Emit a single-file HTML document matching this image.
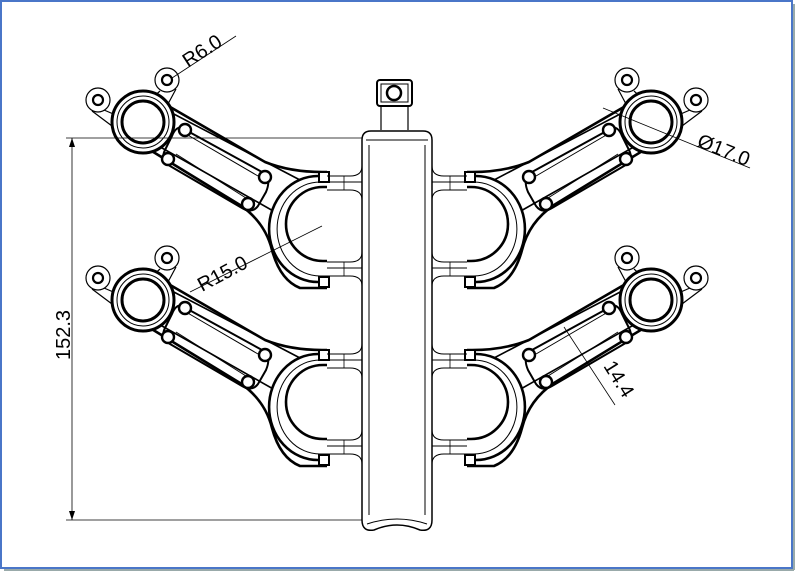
<!DOCTYPE html>
<html><head><style>
html,body{margin:0;padding:0;background:#fff;}
svg{display:block;}
text{font-family:"Liberation Sans",sans-serif;fill:#000;}
</style></head><body>
<svg width="796" height="572" viewBox="0 0 796 572" xmlns="http://www.w3.org/2000/svg">
<rect x="1" y="1" width="791" height="567" fill="#fff" stroke="#4a76c8" stroke-width="2"/>
<line x1="794" y1="4" x2="794" y2="570" stroke="#9aa" stroke-width="2"/>
<line x1="4" y1="570" x2="794" y2="570" stroke="#9aa" stroke-width="2"/>
<defs>
<g id="arm" fill="none" stroke="#000">
  <!-- lugs with necks -->
  <path d="M104,110 L118,116 M92,111 L112,126" stroke-width="1.2"/>
  <path d="M160,91 L150,100 M176,89 L168,104" stroke-width="1.2"/>
  <circle cx="98" cy="100" r="12" stroke-width="1.2" fill="#fff"/>
  <circle cx="98" cy="100" r="5" stroke-width="2.2"/>
  <circle cx="167" cy="80" r="12" stroke-width="1.2" fill="#fff"/>
  <circle cx="167" cy="80" r="5" stroke-width="2.2"/>
  <!-- arm body -->
  <path d="M165,104 L265,162 Q290,172 322,172 L327,172 M150,150 L240,205 Q265,222 272,250 Q280,280 300,288 L327,288" stroke-width="2.6" fill="none"/>
  <path d="M170,112 L300,180 M155,144 L275,212" stroke-width="1.6"/>
  <!-- inner slot -->
  <path d="M182,128 L262,172 Q272,178 266,192 L258,206 Q252,214 242,208 L170,166 Q160,160 165,150 L172,136 Q176,126 182,128 Z" stroke-width="2"/>
  <path d="M186,134 L258,176 M176,154 L246,198" stroke-width="1"/>
  <circle cx="185" cy="130" r="6" stroke-width="2.4" fill="#fff"/>
  <circle cx="168" cy="159" r="6" stroke-width="2.4" fill="#fff"/>
  <circle cx="265" cy="177" r="6" stroke-width="2.4" fill="#fff"/>
  <circle cx="248" cy="204" r="6" stroke-width="2.4" fill="#fff"/>
  <!-- big ring -->
  <circle cx="143" cy="122" r="31" stroke-width="3" fill="#fff"/>
  <circle cx="143" cy="122" r="26" stroke-width="1"/>
  <circle cx="143" cy="122" r="21" stroke-width="3"/>
  <!-- clamp -->
  <path d="M327,176 L318,176 A48,52 0 0,0 318,282 L327,282" stroke-width="2.6" fill="#fff"/>
  <path d="M327,182 L320,182 A42,46 0 0,0 320,276 L327,276" stroke-width="1"/>
  <path d="M327,187 L323,187 A37,37 0 0,0 323,261 L327,261" stroke-width="2.6"/>
  <rect x="319" y="172" width="10" height="10" stroke-width="2" fill="#fff"/>
  <rect x="319" y="277" width="10" height="10" stroke-width="2" fill="#fff"/>
  <!-- connectors to tube -->
  <path d="M327,176 L350,176 Q362,176 362,166 M327,190 L350,190 Q362,190 362,200 M327,182 L362,182" stroke-width="1"/>
  <path d="M327,262 L350,262 Q362,262 362,252 M327,276 L350,276 Q362,276 362,286 M327,268 L362,268" stroke-width="1"/>
  <line x1="344" y1="176" x2="344" y2="190" stroke-width="0.8"/>
  <line x1="344" y1="262" x2="344" y2="276" stroke-width="0.8"/>
</g>
</defs>
<use href="#arm"/>
<use href="#arm" transform="translate(0,178)"/>
<use href="#arm" transform="translate(794,0) scale(-1,1)"/>
<use href="#arm" transform="translate(794,178) scale(-1,1)"/>
<!-- central tube -->
<g fill="#fff" stroke="#000">
  <rect x="377" y="80" width="35" height="26" rx="3" stroke-width="2"/>
  <rect x="381" y="84" width="27" height="18" stroke-width="1"/>
  <circle cx="394" cy="93" r="7" stroke-width="2.5"/>
  <path d="M381,106 L381,130 M408,106 L408,130" stroke-width="1.2"/>
  <path d="M362,520 L362,140 Q362,131 371,131 L423,131 Q432,131 432,140 L432,520 Q432,532 420,530 Q397,520 374,530 Q362,532 362,520 Z" stroke-width="1.5"/>
  <path d="M369,515 L369,145 M425,515 L425,145 M366,140 L428,140" stroke-width="1" fill="none"/>
  <path d="M367,524 Q397,514 427,524" stroke-width="1" fill="none"/>
</g>
<!-- dimensions -->
<g stroke="#000" stroke-width="0.8" fill="none">
  <line x1="66" y1="138" x2="362" y2="138"/>
  <line x1="66" y1="520" x2="362" y2="520"/>
  <line x1="72" y1="138" x2="72" y2="520"/>
  <line x1="172" y1="78" x2="236" y2="36"/>
  <line x1="190" y1="292" x2="322" y2="226"/>
  <line x1="603" y1="108" x2="750" y2="168"/>
  <line x1="564" y1="327" x2="615" y2="405"/>
</g>
<path d="M72,138 l-3,9 h6 z M72,520 l-3,-9 h6 z" fill="#000"/>
<text x="0" y="0" font-size="20" transform="translate(70,360) rotate(-90)">152.3</text>
<text x="0" y="0" font-size="20" transform="translate(188,68) rotate(-33)">R6.0</text>
<text x="0" y="0" font-size="20" transform="translate(202,292) rotate(-28)">R15.0</text>
<text x="0" y="0" font-size="20" transform="translate(696,146) rotate(22)">Ø17.0</text>
<text x="0" y="0" font-size="20" transform="translate(603,366) rotate(58)">14.4</text>
</svg>
</body></html>
